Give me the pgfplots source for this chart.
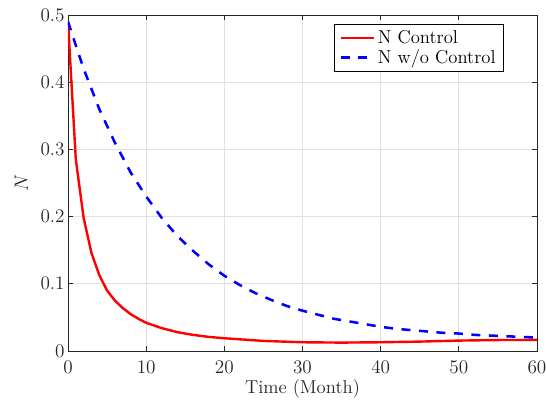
\documentclass[border=0pt]{standalone}
\usepackage{pgfplots}
\pgfplotsset{compat=1.18}

\definecolor{gridgray}{RGB}{225,225,225}
\definecolor{axisgray}{RGB}{38,38,38}

\pgfplotstableread{
t N
0 0.490
1 0.285
2 0.198
3 0.146
4 0.113
5 0.090
6 0.075
7 0.064
8 0.055
9 0.048
10 0.042
12 0.034
14 0.028
16 0.024
18 0.021
20 0.019
25 0.015
30 0.013
35 0.0125
40 0.013
45 0.014
50 0.0155
55 0.0163
60 0.0165
}\controldata

\pgfplotstableread{
t N
0 0.490
2 0.420
4 0.360
6 0.310
8 0.266
10 0.230
12 0.198
14 0.171
16 0.149
18 0.129
20 0.112
22 0.098
24 0.086
26 0.076
28 0.067
30 0.060
32 0.054
34 0.048
36 0.044
38 0.040
40 0.036
42 0.033
44 0.031
46 0.029
48 0.027
50 0.026
52 0.024
54 0.023
56 0.022
58 0.021
60 0.020
}\nocontroldata

\begin{document}
\begin{tikzpicture}
\begin{axis}[
    name=ax,
    scale only axis,
    width=351.75pt,
    height=252pt,
    xmin=0, xmax=60,
    ymin=0, ymax=0.5,
    xtick={0,10,...,60},
    ytick={0,0.1,...,0.5},
    yticklabel style={/pgf/number format/fixed, xshift=1pt},
    xticklabel style={yshift=-4pt},
    tick align=inside,
    tick pos=both,
    major tick length=4pt,
    grid=major,
    grid style={gridgray, line width=0.6pt},
    axis line style={axisgray, line width=0.6pt},
    tick style={axisgray, line width=0.6pt},
    tick label style={font=\fontsize{14}{16}\selectfont, text=axisgray},
    label style={font=\fontsize{14}{16}\selectfont, text=axisgray},
    xlabel={Time (Month)},
    ylabel={$N$},
    xlabel style={at={(axis description cs:0.5,0)}, anchor=base, yshift=-31.5pt},
    ylabel style={at={(axis description cs:-0.0995,0.5)}, anchor=center},
    legend style={at={(0.9296,0.973)}, anchor=north east,
                  draw=black, line width=0.5pt, fill=white,
                  font=\fontsize{14}{16}\selectfont,
                  inner xsep=4pt, inner ysep=2.5pt, row sep=-1pt,
                  cells={anchor=west}},
    legend image code/.code={\draw[#1] (0pt,0pt) -- (25pt,0pt);},
    legend cell align=left,
]
\addplot[red, line width=1.8pt] table[x=t, y=N] {\controldata};
\addlegendentry{N Control}
\addplot[blue, line width=1.9pt, dash pattern=on 6.75pt off 6.4pt] table[x=t, y=N] {\nocontroldata};
\addlegendentry{N w/o Control}
\end{axis}
\pgfresetboundingbox
\path ([shift={(-51pt,-37.5pt)}]ax.south west) rectangle ([shift={(6.75pt,11.25pt)}]ax.north east);
\end{tikzpicture}
\end{document}
